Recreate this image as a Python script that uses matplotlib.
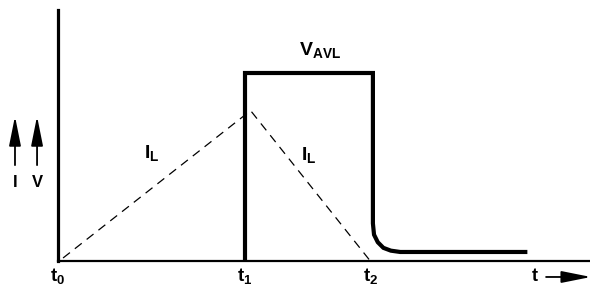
import matplotlib
matplotlib.use("Agg")
import matplotlib.pyplot as plt

plt.rcParams['font.family'] = ['Liberation Sans', 'DejaVu Sans']
plt.rcParams['mathtext.fontset'] = 'custom'
plt.rcParams['mathtext.rm'] = 'Liberation Sans:bold'
plt.rcParams['mathtext.bf'] = 'Liberation Sans:bold'

# time in units of t1, amplitude in units of V_AVL
v_t = [1.0, 1.0, 1.684, 1.684, 1.69, 1.71, 1.74, 1.78, 1.83, 2.51]
v_y = [0.0, 1.0, 1.0, 0.20, 0.14, 0.10, 0.07, 0.055, 0.048, 0.048]

il_t = [0.027, 1.03, 1.67]
il_y = [0.016, 0.80, 0.0]

tick_pos = [0.0, 1.0, 1.67]
tick_lab = [r'$\mathrm{t}_{\mathrm{0}}$', r'$\mathrm{t}_{\mathrm{1}}$', r'$\mathrm{t}_{\mathrm{2}}$']

fig = plt.figure(figsize=(5.9, 2.88), dpi=100)
ax = fig.add_axes([58 / 590, 27 / 288, 532 / 590, 251 / 288])
ax.set_xlim(0, 532 / 187)
ax.set_ylim(0, 251 / 188)
for s in ['top', 'right']:
    ax.spines[s].set_visible(False)
ax.spines['left'].set_linewidth(2.3)
ax.spines['bottom'].set_linewidth(1.6)
ax.set_xticks([])
ax.set_yticks([])

ax.plot(v_t, v_y, color='black', lw=3.0, solid_joinstyle='miter',
        solid_capstyle='butt', clip_on=False)
ax.plot(il_t, il_y, color='black', lw=0.9, ls=(0, (7, 5)), clip_on=False)

for x, lab in zip(tick_pos, tick_lab):
    ax.text(x, -0.085, lab, ha='center', va='center', fontsize=13.5, clip_on=False)

ax.text(1.4, 1.12, r'$\mathrm{V}_{\mathrm{AVL}}$', ha='center', va='center', fontsize=14)
ax.text(0.5, 0.57, r'$\mathrm{I}_{\mathrm{L}}$', ha='center', va='center', fontsize=14)
ax.text(1.34, 0.56, r'$\mathrm{I}_{\mathrm{L}}$', ha='center', va='center', fontsize=14)

# axis arrows
head = '-|>,head_length=1.0,head_width=0.2'
ax.text(2.55, -0.085, 't', ha='center', va='center', fontsize=13,
        fontweight='bold', clip_on=False)
ax.annotate('', xy=(2.85, -0.085), xytext=(2.61, -0.085), annotation_clip=False,
            arrowprops=dict(arrowstyle=head, color='black', lw=1.3,
                            mutation_scale=18, shrinkA=0, shrinkB=0))
for x, lab in [(-0.23, 'I'), (-0.112, 'V')]:
    ax.annotate('', xy=(x, 0.77), xytext=(x, 0.51), annotation_clip=False,
                arrowprops=dict(arrowstyle=head, color='black', lw=1.3,
                                mutation_scale=18, shrinkA=0, shrinkB=0))
    ax.text(x, 0.415, lab, ha='center', va='center', fontsize=12,
            fontweight='bold', clip_on=False)

fig.savefig('out.png', dpi=100)
